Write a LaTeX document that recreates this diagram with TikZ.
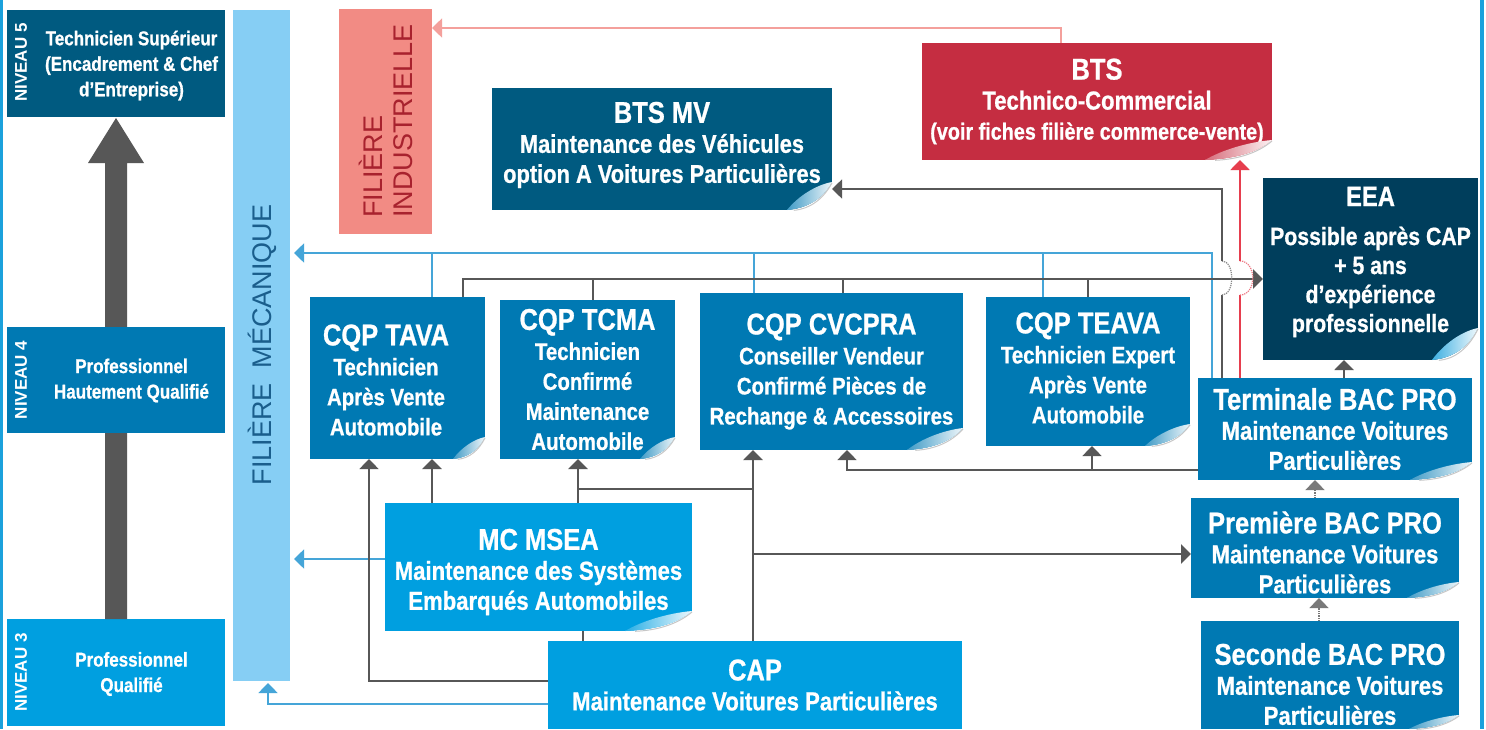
\documentclass[tikz,border=0pt]{standalone}
\usepackage{fontspec}
\setmainfont{Liberation Sans}[FakeStretch=0.85, BoldFeatures={FakeBold=0.8}]
\newfontfamily\plainfont{Liberation Sans}
\usetikzlibrary{arrows.meta,calc}
\definecolor{cN5}{HTML}{005A80}
\definecolor{cN4}{HTML}{0079B3}
\definecolor{cN3}{HTML}{009FE0}
\definecolor{cEEA}{HTML}{003E5C}
\definecolor{cBTS}{HTML}{C52D41}
\definecolor{cMeca}{HTML}{86CEF4}
\definecolor{cInd}{HTML}{F28B84}
\definecolor{cMecaT}{HTML}{1A5E8C}
\definecolor{cIndT}{HTML}{A8222E}
\definecolor{cGray}{HTML}{575757}
\definecolor{cBlueL}{HTML}{45A5D8}
\definecolor{cRed}{HTML}{E63E4E}
\definecolor{cSalm}{HTML}{F4A09C}
\definecolor{cEdge}{HTML}{1BA1DC}
\newcommand\fT{\fontsize{30pt}{30pt}\selectfont\bfseries}
\newcommand\fB[1]{\fontsize{#1pt}{30pt}\selectfont\bfseries}
\newcommand\pcurl[4]{%
\begin{scope}[shift={(#1.south east)}]
\fill[white] (-#2,0) .. controls (-0.55*#2,-0.05*#3) and (-0.2*#2,-0.4*#3) .. (0,-#3) -- (0.5,-#3) -- (0.5,0.5) -- (-#2,0.5) -- cycle;
\shade[left color=#4, right color=white!92!#4] (-#2,0) .. controls (-0.55*#2,-0.05*#3) and (-0.2*#2,-0.4*#3) .. (0,-#3) .. controls (-0.35*#2,-0.9*#3) and (-0.75*#2,-0.5*#3) .. cycle;
\draw[black!22, line width=1pt] (-0.85*#2,0.3) .. controls (-0.5*#2,-0.03*#3) and (-0.2*#2,-0.38*#3) .. (0,-#3+1);
\end{scope}}
\tikzset{
  tri/.tip={Triangle[width=19pt,length=10pt]},
  box/.style={draw=none, inner sep=0pt, outer sep=0pt, align=center, text=white},
  txt/.style={inner sep=0pt, outer sep=0pt, align=center, text=white},
  niv/.style={rotate=90, inner sep=0pt, text=white, font={\plainfont\fontsize{17pt}{17pt}\selectfont\bfseries}},
  lvl/.style={txt, font={\fontsize{20pt}{25.5pt}\selectfont\bfseries}},
  gl/.style={draw=cGray, line width=2.2pt},
  gt/.style={draw=cGray, line width=1.5pt},
  gd/.style={draw=cGray!80, line width=1.2pt, densely dotted},
  bl/.style={draw=cBlueL, line width=1.6pt},
  sa/.style={draw=cSalm, line width=1.5pt},
  rc/.style={draw=cRed, line width=2pt},
}
\begin{document}
\begin{tikzpicture}[x=1pt,y=-1pt]
\useasboundingbox (0,0) rectangle (1486,729);
\fill[white] (0,0) rectangle (1486,729);
\fill[cEdge] (0,0) rectangle (3,729);
\fill[cEdge] (1480,0) rectangle (1484,729);
\foreach \v in {268,369,432,463,578,583,593,753,754,843,847,1043,1061,1088,1092,1212,1222,1240,1315,1319,1344}
  \coordinate (X\v) at (\v,0);
\foreach \v in {28,189,253,261,279,295,470,489,554,559,681,704}
  \coordinate (Y\v) at (0,\v);

% levels
\node[box, fill=cN5, minimum width=218pt, minimum height=107pt] (n5) at (116,63.5) {};
\node[box, fill=cN3, minimum width=218pt, minimum height=107pt] (n3) at (116,672.5) {};
\fill[cGray] ($(n3.north)+(-11,0)$) -- ($(n5.south)+(-11,46)$) -- ($(n5.south)+(-28,46)$) -- ($(n5.south)+(0,1)$) -- ($(n5.south)+(28,46)$) -- ($(n5.south)+(11,46)$) -- ($(n3.north)+(11,0)$) -- cycle;
\node[box, fill=cN4, minimum width=218pt, minimum height=106pt] (n4) at (116,380) {};
\node[niv] (n5l) at (21,62.5) {NIVEAU 5};
\node[niv] (n4l) at (21,380) {NIVEAU 4};
\node[niv] (n3l) at (21,672.5) {NIVEAU 3};
\node[lvl] (n5t) at (131.5,65.5) {Technicien Supérieur\\(Encadrement \& Chef\\d'Entreprise)};
\node[lvl] (n4t) at (131.5,380.5) {Professionnel\\Hautement Qualifié};
\node[lvl] (n3t) at (131.5,674) {Professionnel\\Qualifié};

% filieres
\node[box, fill=cMeca, minimum width=57pt, minimum height=671pt] (meca) at (261.5,345.5) {};
\node[rotate=90, inner sep=0pt, text=cMecaT, font={\plainfont\fontsize{27pt}{27pt}\selectfont}] (mecat) at (262,345) {FILIÈRE\ \ MÉCANIQUE};
\node[box, fill=cInd, minimum width=93pt, minimum height=225pt] (ind) at (385.5,121.5) {};
\node[rotate=90, inner sep=0pt, align=left, text=cIndT, font={\plainfont\fontsize{27pt}{30pt}\selectfont}] (indt) at (386,121) {FILIÈRE\\INDUSTRIELLE};

% top boxes
\node[box, fill=cBTS, minimum width=350pt, minimum height=117pt, font=\fB{26}] (bts) at (1097,101.5)
  {{\fT BTS}\\Technico-Commercial\\{\fB{23.3}(voir fiches filière commerce-vente)}};
\node[box, fill=cN5, minimum width=340pt, minimum height=122pt] (mv) at (662,149) {};
\node[txt, font=\fB{25.7}] (mvt) at (662,145) {{\fT BTS MV}\\Maintenance des Véhicules\\option A Voitures Particulières};
\node[box, fill=cEEA, minimum width=215pt, minimum height=182pt] (eea) at (1370.5,269) {};
\node[txt, font={\fontsize{25pt}{29pt}\selectfont\bfseries}] (eeat) at (1370.5,262)
  {{\fontsize{28pt}{28pt}\selectfont EEA}\\[10pt]Possible après CAP\\+ 5 ans\\d'expérience\\professionnelle};

% CQP
\node[box, fill=cN4, minimum width=175pt, minimum height=162pt] (tava) at (397.5,378) {};
\node[txt, font=\fB{24}] (tavat) at (386,380) {{\fT CQP TAVA}\\Technicien\\Après Vente\\Automobile};
\node[box, fill=cN4, minimum width=175pt, minimum height=159pt, font=\fB{24}] (tcma) at (587.5,379.5)
  {{\fT CQP TCMA}\\Technicien\\Confirmé\\Maintenance\\Automobile};
\node[box, fill=cN4, minimum width=263pt, minimum height=157pt, font=\fB{24}] (cvcpra) at (831.5,371.5)
  {{\fT CQP CVCPRA}\\Conseiller Vendeur\\Confirmé Pièces de\\Rechange \& Accessoires};
\node[box, fill=cN4, minimum width=204pt, minimum height=149pt] (teava) at (1088,371.5) {};
\node[txt, font=\fB{24}] (teavat) at (1088,368) {{\fT CQP TEAVA}\\Technicien Expert\\Après Vente\\Automobile};

% BAC PRO
\node[box, fill=cN4, minimum width=274pt, minimum height=102pt, font=\fB{26}] (term) at (1335,429)
  {{\fT Terminale BAC PRO}\\Maintenance Voitures\\Particulières};
\node[box, fill=cN4, minimum width=268pt, minimum height=100pt] (prem) at (1325,548) {};
\node[txt, font=\fB{26}] (premt) at (1325,552.5) {{\fT Première BAC PRO}\\Maintenance Voitures\\Particulières};
\node[box, fill=cN4, minimum width=258pt, minimum height=108pt] (sec) at (1330,675) {};
\node[txt, font=\fB{26}] (sect) at (1330,684) {{\fT Seconde BAC PRO}\\Maintenance Voitures\\Particulières};

% MC and CAP
\node[box, fill=cN3, minimum width=307pt, minimum height=128pt] (msea) at (538.5,567) {};
\node[txt, font=\fB{26}] (mseat) at (538.5,572) {{\fT MC MSEA}\\Maintenance des Systèmes\\Embarqués Automobiles};
\node[box, fill=cN3, minimum width=414pt, minimum height=88pt, font=\fB{26}] (cap) at (755,685)
  {{\fT CAP}\\Maintenance Voitures Particulières};

% page curls
\pcurl{bts}{67}{20}{cBTS!70!white}
\pcurl{mv}{45}{28}{cN4!75!white}
\pcurl{eea}{46}{32}{cEdge!85!white}
\pcurl{tava}{32}{22}{cN4!75!white}
\pcurl{tcma}{35}{22}{cN4!75!white}
\pcurl{cvcpra}{56}{22}{cN4!75!white}
\pcurl{teava}{45}{22}{cN4!75!white}
\pcurl{term}{62}{18}{cN4!75!white}
\pcurl{prem}{52}{16}{cN4!75!white}
\pcurl{sec}{50}{14}{cN4!75!white}
\pcurl{msea}{67}{20}{cN3!85!white}

% blue connectors to filiere mecanique
\draw[bl, -tri, shorten >=4pt] (term.north -| X1212) -- (X1212 |- Y253) -- (meca.east |- Y253);
\draw[bl] (tava.north -| X432) -- (X432 |- Y253);
\draw[bl] (cvcpra.north -| X754) -- (X754 |- Y253);
\draw[bl] (teava.north -| X1043) -- (X1043 |- Y253);
\draw[bl, -tri, shorten >=4pt] (msea.west |- Y559) -- (meca.east |- Y559);
\draw[bl, -tri, shorten >=2pt] (cap.west |- Y704) -- (X268 |- Y704) -- (X268 |- meca.south);

% gray connectors to EEA
\draw[gl, -tri] (tava.north -| X463) -- (X463 |- Y279) -- (eea.west |- Y279);
\draw[gl] (tcma.north -| X593) -- (X593 |- Y279);
\draw[gl] (cvcpra.north -| X843) -- (X843 |- Y279);
\draw[gl] (teava.north -| X1088) -- (X1088 |- Y279);

% terminale -> BTS MV (with hop)
\draw[gt] (term.north -| X1222) -- (X1222 |- Y295);
\draw[draw=cGray!70, line width=1.2pt, densely dotted] (X1222 |- Y295) .. controls +(13,0) and +(13,0) .. (X1222 |- Y261);
\draw[gt, -tri] (X1222 |- Y261) -- (X1222 |- Y189) -- (mv.east |- Y189);
% terminale -> BTS (with hop)
\draw[rc] (term.north -| X1240) -- (X1240 |- Y295);
\draw[draw=cRed!70, line width=1.2pt, densely dotted] (X1240 |- Y295) .. controls +(17,0) and +(17,0) .. (X1240 |- Y261);
\draw[rc, -tri] (X1240 |- Y261) -- (X1240 |- bts.south);

% terminale -> CQPs, EEA
\draw[gt, -tri] (term.west |- Y470) -- (X847 |- Y470) -- (X847 |- cvcpra.south);
\draw[gt, -tri] (X1092 |- Y470) -- (X1092 |- teava.south);
\draw[gl, -tri] (term.north -| X1344) -- (X1344 |- eea.south);
\draw[gd, -tri] (prem.north -| X1315) -- (X1315 |- term.south);
\draw[gd, -tri] (sec.north -| X1319) -- (X1319 |- prem.south);

% CAP and MC
\draw[gl, -tri] (cap.north -| X753) -- (X753 |- cvcpra.south);
\draw[gl, -tri] (X753 |- Y554) -- (prem.west |- Y554);
\draw[gl] (X753 |- Y489) -- (X578 |- Y489);
\draw[gl, -tri] (msea.north -| X578) -- (X578 |- tcma.south);
\draw[gl, -tri] (msea.north -| X432) -- (X432 |- tava.south);
\draw[gt, -tri] (cap.west |- Y681) -- (X369 |- Y681) -- (X369 |- tava.south);
\draw[gl] (msea.south -| X583) -- (X583 |- cap.north);
\draw[sa, -tri] (bts.north -| X1061) -- (X1061 |- Y28) -- (ind.east |- Y28);
\end{tikzpicture}
\end{document}
